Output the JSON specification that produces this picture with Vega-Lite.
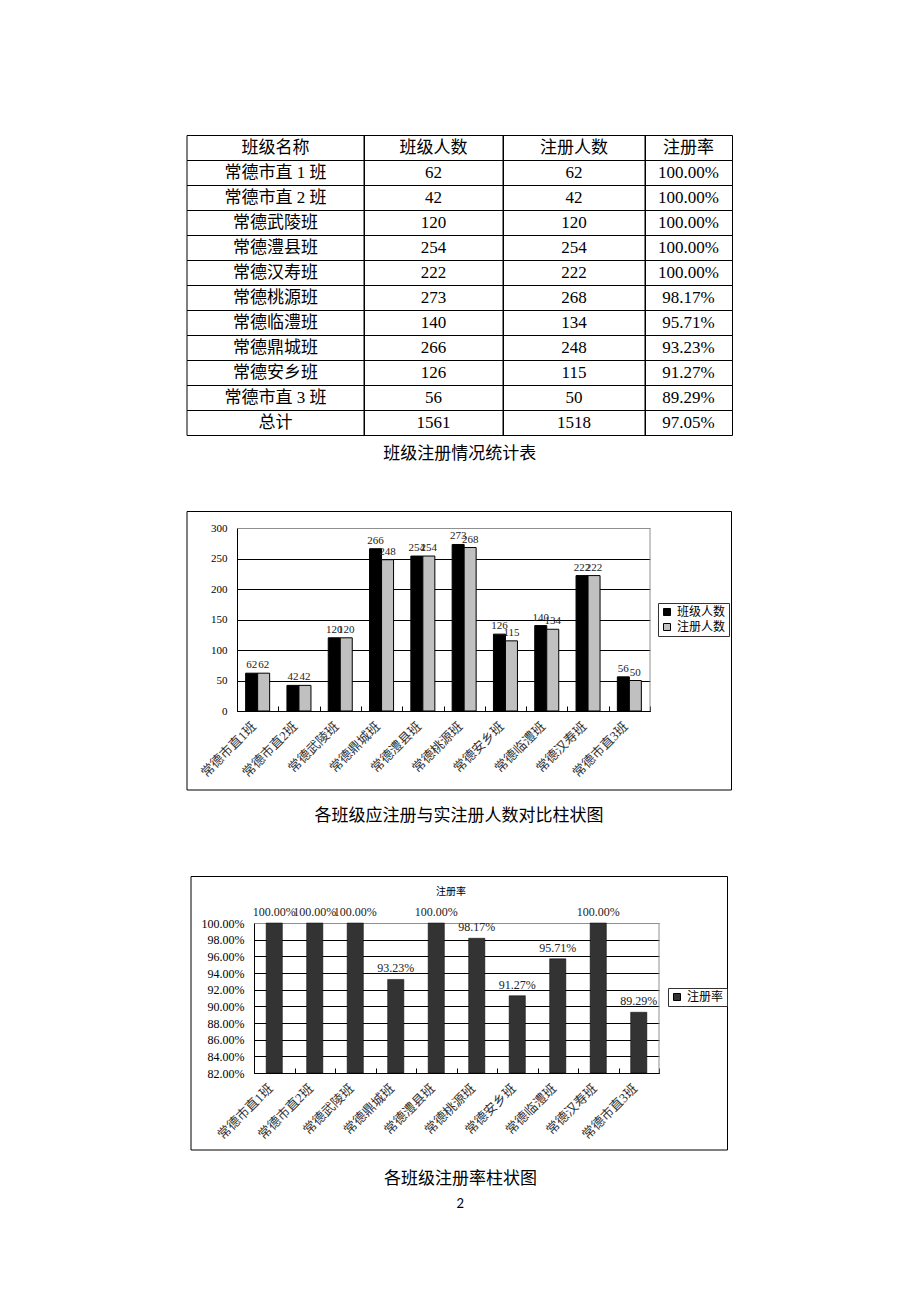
{
  "$schema": "https://vega.github.io/schema/vega-lite/v6.json",
  "background": "white",
  "padding": {"left": 182, "top": 135, "right": 0, "bottom": 0},
  "config": {
    "view": {"stroke": null},
    "title": {"font": "Noto Sans CJK SC", "fontWeight": "normal", "color": "black"}
  },
  "datasets": {
    "table": [
      {"班级名称": "班级名称", "班级人数": "班级人数", "注册人数": "注册人数", "注册率": "注册率"},
      {"班级名称": "常德市直 1 班", "班级人数": 62, "注册人数": 62, "注册率": "100.00%"},
      {"班级名称": "常德市直 2 班", "班级人数": 42, "注册人数": 42, "注册率": "100.00%"},
      {"班级名称": "常德武陵班", "班级人数": 120, "注册人数": 120, "注册率": "100.00%"},
      {"班级名称": "常德澧县班", "班级人数": 254, "注册人数": 254, "注册率": "100.00%"},
      {"班级名称": "常德汉寿班", "班级人数": 222, "注册人数": 222, "注册率": "100.00%"},
      {"班级名称": "常德桃源班", "班级人数": 273, "注册人数": 268, "注册率": "98.17%"},
      {"班级名称": "常德临澧班", "班级人数": 140, "注册人数": 134, "注册率": "95.71%"},
      {"班级名称": "常德鼎城班", "班级人数": 266, "注册人数": 248, "注册率": "93.23%"},
      {"班级名称": "常德安乡班", "班级人数": 126, "注册人数": 115, "注册率": "91.27%"},
      {"班级名称": "常德市直 3 班", "班级人数": 56, "注册人数": 50, "注册率": "89.29%"},
      {"班级名称": "总计", "班级人数": 1561, "注册人数": 1518, "注册率": "97.05%"}
    ],
    "classes": [
      {"班级": "常德市直1班", "班级人数": 62, "注册人数": 62, "注册率": 1.0},
      {"班级": "常德市直2班", "班级人数": 42, "注册人数": 42, "注册率": 1.0},
      {"班级": "常德武陵班", "班级人数": 120, "注册人数": 120, "注册率": 1.0},
      {"班级": "常德鼎城班", "班级人数": 266, "注册人数": 248, "注册率": 0.9323},
      {"班级": "常德澧县班", "班级人数": 254, "注册人数": 254, "注册率": 1.0},
      {"班级": "常德桃源班", "班级人数": 273, "注册人数": 268, "注册率": 0.9817},
      {"班级": "常德安乡班", "班级人数": 126, "注册人数": 115, "注册率": 0.9127},
      {"班级": "常德临澧班", "班级人数": 140, "注册人数": 134, "注册率": 0.9571},
      {"班级": "常德汉寿班", "班级人数": 222, "注册人数": 222, "注册率": 1.0},
      {"班级": "常德市直3班", "班级人数": 56, "注册人数": 50, "注册率": 0.8929}
    ]
  },
  "spacing": 49,
  "resolve": {"scale": {"color": "independent"}, "legend": {"color": "independent"}},
  "vconcat": [
    {
      "hconcat": [
        {
          "width": 177, "height": 300,
          "data": {"name": "table"},
          "encoding": {"y": {"field": "班级名称", "type": "nominal", "sort": null, "scale": {"paddingInner": 0, "paddingOuter": 0}, "axis": null}},
          "layer": [
            {"mark": {"type": "rect", "filled": false, "stroke": "black", "strokeWidth": 1, "xOffset": 0.5, "yOffset": 0.5}},
            {"mark": {"type": "text", "font": "Liberation Serif, Noto Sans CJK SC", "fontSize": 17, "color": "black"}, "encoding": {"text": {"field": "班级名称", "type": "nominal"}}}
          ]
        },
        {
          "width": 139, "height": 300,
          "data": {"name": "table"},
          "encoding": {"y": {"field": "班级名称", "type": "nominal", "sort": null, "scale": {"paddingInner": 0, "paddingOuter": 0}, "axis": null}},
          "layer": [
            {"mark": {"type": "rect", "filled": false, "stroke": "black", "strokeWidth": 1, "xOffset": 0.5, "yOffset": 0.5}},
            {"mark": {"type": "text", "font": "Liberation Serif, Noto Sans CJK SC", "fontSize": 17, "color": "black"}, "encoding": {"text": {"field": "班级人数", "type": "nominal"}}}
          ]
        },
        {
          "width": 142, "height": 300,
          "data": {"name": "table"},
          "encoding": {"y": {"field": "班级名称", "type": "nominal", "sort": null, "scale": {"paddingInner": 0, "paddingOuter": 0}, "axis": null}},
          "layer": [
            {"mark": {"type": "rect", "filled": false, "stroke": "black", "strokeWidth": 1, "xOffset": 0.5, "yOffset": 0.5}},
            {"mark": {"type": "text", "font": "Liberation Serif, Noto Sans CJK SC", "fontSize": 17, "color": "black"}, "encoding": {"text": {"field": "注册人数", "type": "nominal"}}}
          ]
        },
        {
          "width": 87, "height": 300,
          "data": {"name": "table"},
          "encoding": {"y": {"field": "班级名称", "type": "nominal", "sort": null, "scale": {"paddingInner": 0, "paddingOuter": 0}, "axis": null}},
          "layer": [
            {"mark": {"type": "rect", "filled": false, "stroke": "black", "strokeWidth": 1, "xOffset": 0.5, "yOffset": 0.5}},
            {"mark": {"type": "text", "font": "Liberation Serif, Noto Sans CJK SC", "fontSize": 17, "color": "black"}, "encoding": {"text": {"field": "注册率", "type": "nominal"}}}
          ]
        }
      ],
      "spacing": 0,
      "bounds": "flush",
      "title": {"text": "班级注册情况统计表", "orient": "bottom", "offset": 10, "fontSize": 17, "anchor": "middle"}
    },
    {
      "width": 544, "height": 279,
      "title": {"text": "各班级应注册与实注册人数对比柱状图", "orient": "bottom", "offset": 17, "fontSize": 17, "anchor": "middle"},
      "layer": [
        {
          "data": {"values": [{}]},
          "mark": {"type": "rect", "filled": false, "stroke": "black", "strokeWidth": 1, "xOffset": 0.5, "yOffset": 0.5},
          "encoding": {}
        },
        {
          "data": {"name": "classes"},
          "transform": [{"fold": ["班级人数", "注册人数"], "as": ["类别", "人数"]}],
          "encoding": {
            "x": {
              "field": "班级", "type": "nominal", "sort": null,
              "scale": {"range": [50, 463], "paddingInner": 0, "paddingOuter": 0},
              "axis": {"title": null, "orient": "bottom", "offset": -79, "labelAngle": -45, "labelAlign": "right", "labelBaseline": "middle", "labelPadding": 18, "labelOffset": -4, "labelFont": "Liberation Serif, Noto Sans CJK SC", "labelFontSize": 13, "labelColor": "#333", "labelOverlap": false, "labelBound": false, "labelFlush": false, "labelLimit": 200, "tickBand": "extent", "tickSize": -5, "tickColor": "black", "domainColor": "black", "grid": false}
            },
            "xOffset": {"field": "类别", "type": "nominal", "sort": ["班级人数", "注册人数"], "scale": {"paddingInner": 0, "paddingOuter": 0.72}},
            "y": {
              "field": "人数", "type": "quantitative",
              "scale": {"domain": [0, 300], "range": [200, 17], "nice": false, "zero": false},
              "axis": {"title": null, "orient": "left", "offset": -50, "values": [0, 50, 100, 150, 200, 250, 300], "tickCount": 20, "ticks": false, "labelPadding": 10, "labelOverlap": false, "labelBound": false, "labelFlush": false, "labelFont": "Liberation Serif", "labelFontSize": 11, "labelColor": "black", "domainColor": "black", "grid": true, "gridOpacity": 1, "gridColor": {"condition": {"test": "datum.value === 300", "value": "#909090"}, "value": "black"}}
            }
          },
          "layer": [
            {
              "mark": {"type": "bar", "stroke": "black", "strokeWidth": 1},
              "encoding": {
                "color": {
                  "field": "类别", "type": "nominal",
                  "scale": {"domain": ["班级人数", "注册人数"], "range": ["#000000", "#c0c0c0"]},
                  "legend": {"orient": "none", "legendX": 471, "legendY": 92, "title": null, "strokeColor": "#333", "padding": 3, "symbolType": "square", "symbolSize": 49, "symbolStrokeColor": "black", "symbolStrokeWidth": 1, "symbolOpacity": 1, "labelFont": "Noto Sans CJK SC", "labelFontSize": 12, "labelColor": "black", "rowPadding": 3, "labelOffset": 4}
                }
              }
            },
            {
              "mark": {"type": "text", "baseline": "alphabetic", "dy": -5, "font": "Liberation Serif", "fontSize": 11, "color": "#222"},
              "encoding": {"text": {"field": "人数", "type": "quantitative"}}
            }
          ]
        },
        {
          "data": {"values": [{}]},
          "mark": {"type": "rule", "color": "#909090", "strokeWidth": 1},
          "encoding": {
            "x": {"datum": "常德市直3班", "bandPosition": 1},
            "y": {"datum": 0},
            "y2": {"datum": 300}
          }
        }
      ]
    },
    {
      "hconcat": [
        {"width": 1, "height": 1, "data": {"values": [{}]}, "mark": {"type": "point", "opacity": 0}, "encoding": {}},
        {
          "width": 536, "height": 274,
          "title": {"text": "注册率", "orient": "top", "offset": -21, "fontSize": 10, "anchor": "middle", "dx": -8},
          "layer": [
            {
              "data": {"values": [{}]},
              "mark": {"type": "rect", "filled": false, "stroke": "black", "strokeWidth": 1, "xOffset": 0.5, "yOffset": 0.5},
              "encoding": {}
            },
            {
              "data": {"name": "classes"},
              "encoding": {
                "x": {
                  "field": "班级", "type": "nominal", "sort": null,
                  "scale": {"range": [63, 468], "paddingInner": 0, "paddingOuter": 0},
                  "axis": {"title": null, "orient": "bottom", "offset": -77, "labelAngle": -45, "labelAlign": "right", "labelBaseline": "middle", "labelPadding": 18, "labelOffset": -4, "labelFont": "Liberation Serif, Noto Sans CJK SC", "labelFontSize": 13, "labelColor": "#333", "labelOverlap": false, "labelBound": false, "labelFlush": false, "labelLimit": 200, "tickBand": "extent", "tickSize": -5, "tickColor": "black", "domainColor": "black", "grid": false}
                },
                "y": {
                  "field": "注册率", "type": "quantitative",
                  "scale": {"domain": [0.82, 1.0], "range": [197, 47], "nice": false, "zero": false},
                  "axis": {"title": null, "orient": "left", "offset": -63, "values": [0.82, 0.84, 0.86, 0.88, 0.9, 0.92, 0.94, 0.96, 0.98, 1.0], "tickCount": 20, "format": ".2%", "ticks": false, "labelPadding": 10, "labelOverlap": false, "labelBound": false, "labelFlush": false, "labelFont": "Liberation Serif", "labelFontSize": 12, "labelColor": "black", "domainColor": "black", "grid": true, "gridOpacity": 1, "gridColor": {"condition": {"test": "datum.value === 1", "value": "#909090"}, "value": "black"}}
                }
              },
              "layer": [
                {
                  "mark": {"type": "bar", "width": {"band": 0.4}, "stroke": "black", "strokeWidth": 0.5},
                  "encoding": {
                    "y2": {"datum": 0.82},
                    "color": {
                      "datum": "注册率",
                      "scale": {"range": ["#333333"]},
                      "legend": {"orient": "none", "legendX": 477, "legendY": 112, "title": null, "strokeColor": "#333", "padding": 3, "symbolType": "square", "symbolSize": 49, "symbolStrokeColor": "black", "symbolStrokeWidth": 1, "symbolOpacity": 1, "labelFont": "Noto Sans CJK SC", "labelFontSize": 12, "labelColor": "black", "labelOffset": 4}
                    }
                  }
                },
                {
                  "mark": {"type": "text", "baseline": "alphabetic", "dy": -7, "font": "Liberation Serif", "fontSize": 12, "color": "#222"},
                  "encoding": {"text": {"field": "注册率", "type": "quantitative", "format": ".2%"}}
                }
              ]
            },
            {
              "data": {"values": [{}]},
              "mark": {"type": "rule", "color": "#909090", "strokeWidth": 1},
              "encoding": {
                "x": {"datum": "常德市直3班", "bandPosition": 1},
                "y": {"datum": 0.82},
                "y2": {"datum": 1.0}
              }
            }
          ]
        }
      ],
      "spacing": 3,
      "bounds": "flush",
      "resolve": {"scale": {"color": "independent"}, "legend": {"color": "independent"}},
      "title": {"text": "各班级注册率柱状图", "subtitle": "2", "orient": "bottom", "offset": 20, "fontSize": 17, "anchor": "middle", "dx": 4, "subtitleFont": "Lato", "subtitleFontSize": 13, "subtitleColor": "black", "subtitlePadding": 10}
    }
  ]
}
